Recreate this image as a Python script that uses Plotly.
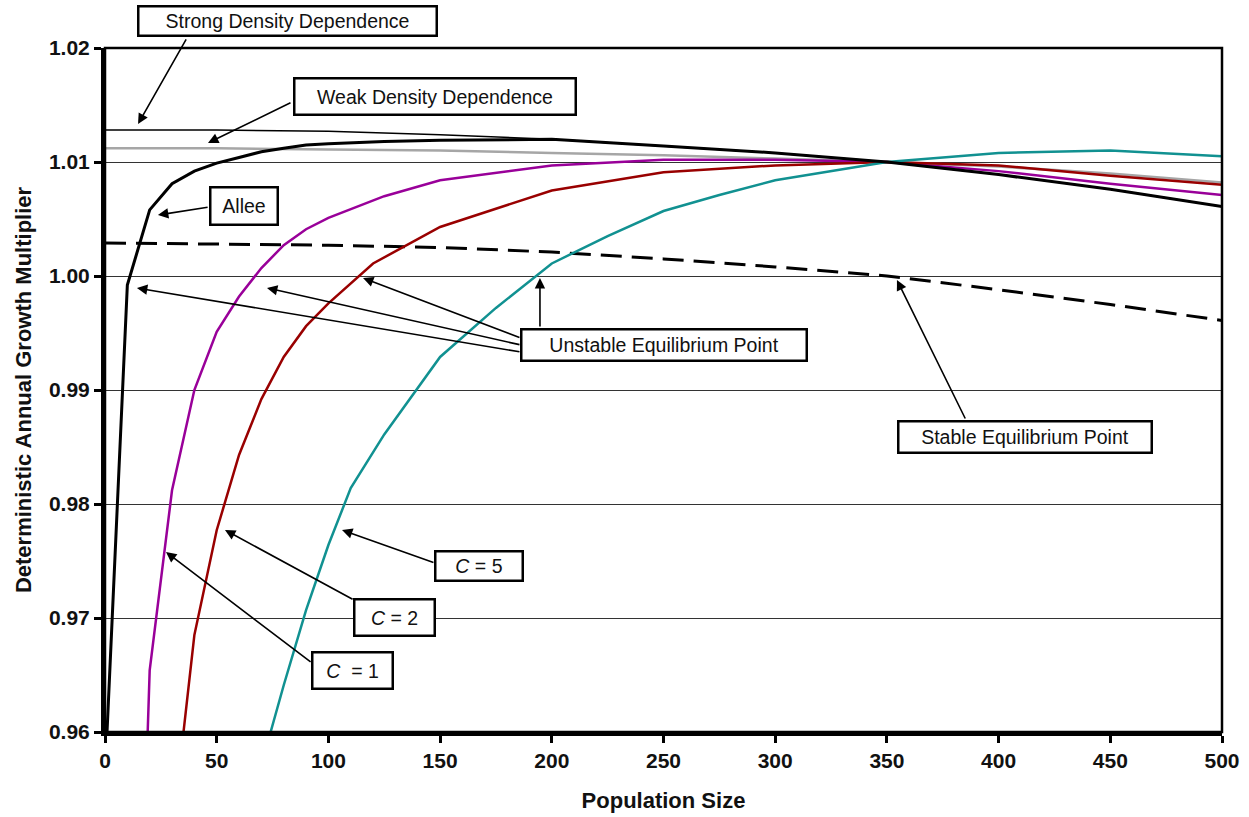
import plotly.graph_objects as go

# --------------------------
# Data
# --------------------------
strong_x = [0, 50, 100, 150, 200, 250, 300, 350, 400, 450, 500]
strong_y = [1.0128, 1.0128, 1.0127, 1.0124, 1.0120, 1.0114, 1.0108, 1.0100, 1.0089, 1.0076, 1.0061]

weak_x = [0, 50, 100, 150, 200, 250, 300, 350, 400, 450, 500]
weak_y = [1.0112, 1.0112, 1.0111, 1.0110, 1.0108, 1.0106, 1.0103, 1.0100, 1.0096, 1.0090, 1.0082]

allee_x = [0, 10, 20, 30, 40, 50, 60, 70, 80, 90, 100, 125, 150, 200, 250, 300, 350, 400, 450, 500]
allee_y = [0.9561, 0.9992, 1.0058, 1.0081, 1.0092, 1.0099, 1.0104, 1.0109, 1.0112, 1.0115,
           1.0116, 1.0118, 1.0119, 1.0120, 1.0114, 1.0108, 1.0100, 1.0089, 1.0076, 1.0061]

c1_x = [10, 20, 30, 40, 50, 60, 70, 80, 90, 100, 125, 150, 200, 250, 300, 350, 400, 450, 500]
c1_y = [0.9050, 0.9654, 0.9812, 0.9900, 0.9951, 0.9982, 1.0007, 1.0027, 1.0041, 1.0051,
        1.0070, 1.0084, 1.0097, 1.0102, 1.0102, 1.0100, 1.0092, 1.0081, 1.0071]

c2_x = [30, 40, 50, 60, 70, 80, 90, 100, 120, 150, 200, 250, 300, 350, 400, 450, 500]
c2_y = [0.9510, 0.9685, 0.9777, 0.9843, 0.9892, 0.9929, 0.9956, 0.9976, 1.0011,
        1.0043, 1.0075, 1.0091, 1.0097, 1.0100, 1.0097, 1.0088, 1.0080]

c5_x = [70, 80, 90, 100, 110, 125, 150, 175, 200, 225, 250, 275, 300, 350, 400, 450, 500]
c5_y = [0.9571, 0.9641, 0.9707, 0.9764, 0.9814, 0.9861, 0.9929, 0.9972, 1.0011,
        1.0035, 1.0057, 1.0071, 1.0084, 1.0100, 1.0108, 1.0110, 1.0105]

stable_x = [0, 50, 100, 150, 200, 250, 300, 350, 400, 450, 500]
stable_y = [1.0029, 1.0028, 1.0027, 1.0025, 1.0021, 1.0015, 1.0008, 1.0000, 0.9988, 0.9975, 0.9961]

x_ticks = [0, 50, 100, 150, 200, 250, 300, 350, 400, 450, 500]
y_ticks = [0.96, 0.97, 0.98, 0.99, 1.00, 1.01, 1.02]

FONT = "Liberation Sans, Arial, sans-serif"

fig = go.Figure()

# --------------------------
# Curves
# --------------------------
fig.add_trace(go.Scatter(x=stable_x, y=stable_y, mode="lines",
                         line=dict(color="black", width=3, dash="21px,10px")))
fig.add_trace(go.Scatter(x=weak_x, y=weak_y, mode="lines",
                         line=dict(color="#a6a6a6", width=2.5)))
fig.add_trace(go.Scatter(x=strong_x, y=strong_y, mode="lines",
                         line=dict(color="black", width=1.5)))
fig.add_trace(go.Scatter(x=c1_x, y=c1_y, mode="lines",
                         line=dict(color="#990099", width=2.5)))
fig.add_trace(go.Scatter(x=c2_x, y=c2_y, mode="lines",
                         line=dict(color="#990000", width=2.5)))
fig.add_trace(go.Scatter(x=c5_x, y=c5_y, mode="lines",
                         line=dict(color="#119191", width=2.5)))
fig.add_trace(go.Scatter(x=allee_x, y=allee_y, mode="lines",
                         line=dict(color="black", width=3)))

# --------------------------
# Arrows (head x, head y, tail x, tail y) in data units
# --------------------------
arrows = [
    (14.8, 1.01333, 36.7, 1.02088),    # strong
    (46.1, 1.01167, 83.7, 1.01526),    # weak
    (23.7, 1.00535, 46.6, 1.00605),    # allee
    (14.3, 0.99895, 186.2, 0.99333),   # unstable -> allee
    (72.5, 0.99895, 186.2, 0.99395),   # unstable -> C=1
    (115.5, 0.99982, 186.2, 0.99456),  # unstable -> C=2
    (194.7, 0.99982, 194.7, 0.99544),  # unstable -> C=5
    (354.5, 0.99965, 385.4, 0.98737),  # stable
    (106.1, 0.97772, 147.7, 0.97482),  # C=5
    (53.7, 0.97772, 111.5, 0.97158),   # C=2
    (27.3, 0.97579, 92.7, 0.96605),    # C=1
]
annotations = []
for hx, hy, tx, ty in arrows:
    annotations.append(dict(x=hx, y=hy, ax=tx, ay=ty, xref="x", yref="y",
                            axref="x", ayref="y", text="", showarrow=True,
                            arrowhead=2, arrowsize=1.3, arrowwidth=1.6,
                            arrowcolor="black"))

# --------------------------
# Label boxes (text, centre x, centre y, width px, height px) - paper units
# --------------------------
boxes = [
    ("Strong Density Dependence", 0.163, 1.0402, 300, 31),
    ("Weak Density Dependence", 0.295, 0.9298, 283, 38),
    ("Allee", 0.124, 0.7697, 69, 39),
    ("Unstable Equilibrium Point", 0.5008, 0.5665, 287, 33),
    ("Stable Equilibrium Point", 0.8232, 0.4320, 255, 33),
    ("<i>C</i> = 5", 0.3352, 0.2420, 89, 31),
    ("<i>C</i> = 2", 0.2596, 0.1667, 82, 38),
    ("<i>C</i>  = 1", 0.2220, 0.0892, 82, 38),
]
for txt, bx, by, w, h in boxes:
    annotations.append(dict(x=bx, y=by, xref="paper", yref="paper", text=txt,
                            showarrow=False, xanchor="center", yanchor="middle",
                            width=w - 6, height=h - 6, borderpad=1,
                            bgcolor="white", bordercolor="black", borderwidth=2.5,
                            font=dict(family=FONT, size=19.5, color="#111")))

fig.update_layout(
    width=1249, height=817,
    margin=dict(l=105, r=27, t=48, b=85),
    plot_bgcolor="white", paper_bgcolor="white",
    showlegend=False,
    annotations=annotations,
    shapes=[dict(type="rect", xref="paper", yref="paper", x0=0, x1=1, y0=0, y1=1,
                 line=dict(color="black", width=2.5), layer="above")],
    font=dict(family=FONT, color="#111"),
)

fig.update_xaxes(
    range=[0, 500], tickvals=x_ticks, ticktext=[f"<b>{v}</b>" for v in x_ticks],
    showgrid=False, zeroline=False, automargin=False,
    showline=True, linecolor="black", linewidth=4,
    ticks="outside", ticklen=7, tickwidth=3, tickcolor="black",
    tickfont=dict(family=FONT, size=21, color="#111"),
    title=dict(text="<b>Population Size</b>", font=dict(family=FONT, size=22, color="#111"),
               standoff=22),
)
fig.update_yaxes(
    range=[0.96, 1.02], tickvals=y_ticks, ticktext=[f"<b>{v:.2f}</b>" for v in y_ticks],
    zeroline=False, showgrid=True, gridcolor="#333", gridwidth=1.2, automargin=False,
    showline=True, linecolor="black", linewidth=4,
    ticks="outside", ticklen=7, tickwidth=3, tickcolor="black",
    tickfont=dict(family=FONT, size=21, color="#111"),
    title=dict(text="<b>Deterministic Annual Growth Multiplier</b>",
               font=dict(family=FONT, size=22, color="#111"), standoff=12),
)

fig.write_html("out.html", config={"displayModeBar": False},
               post_script="document.body.style.margin='0';")
